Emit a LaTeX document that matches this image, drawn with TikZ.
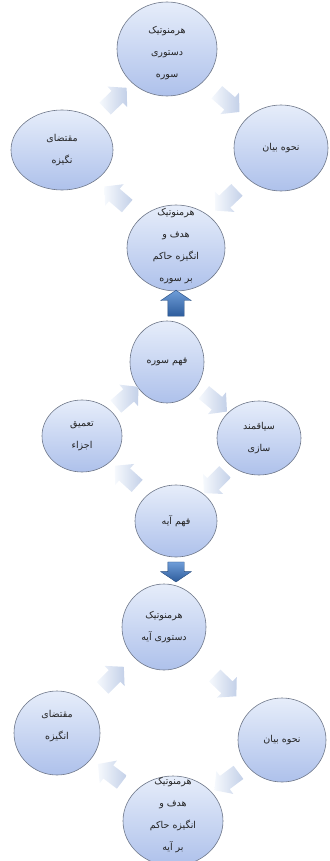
\documentclass[tikz,border=0pt]{standalone}
\usepackage{fontspec}
\newfontfamily\arabicfont[Script=Arabic]{DejaVu Sans}
\TeXXeTstate=1
\usetikzlibrary{shapes.geometric,shapes.arrows,calc}
\newcommand\rtltext[1]{\beginR #1\endR}
\definecolor{circtop}{HTML}{E6EDFA}
\definecolor{circbot}{HTML}{AEC1EB}
\definecolor{circline}{HTML}{6E7789}
\definecolor{paleA}{HTML}{F6F9FD}
\definecolor{paleB}{HTML}{C3D0E8}
\definecolor{blueA}{HTML}{2D5C9C}
\definecolor{blueB}{HTML}{6F9DD8}
\definecolor{txtc}{HTML}{222222}
\begin{document}
\begin{tikzpicture}[x=1pt,y=-1pt,
  bubble/.style={ellipse, draw=circline, line width=0.6pt, top color=circtop, bottom color=circbot, inner sep=0pt},
  txt/.style={align=center, text=txtc, font=\arabicfont\fontsize{9.5}{22}\selectfont, inner sep=0pt},
  parr/.style={single arrow, draw=none, left color=paleA, right color=paleB, minimum height=30pt, inner sep=0pt, inner ysep=8pt, single arrow head extend=6pt, single arrow tip angle=95, sloped, allow upside down},
  barr/.style={single arrow, draw=blueA!80!black, line width=0.4pt, top color=blueB, bottom color=blueA, inner sep=0pt, inner ysep=8pt, single arrow head extend=7pt, single arrow tip angle=112},
]
\useasboundingbox (0,0) rectangle (329,861);

% ---- cycle 1 ----
\node[bubble, minimum width=100pt, minimum height=94pt] (c1) at (167,49) {};
\node[bubble, minimum width=102pt, minimum height=80pt] (c2) at (62,150) {};
\node[bubble, minimum width=94pt, minimum height=86pt] (c3) at (281,148) {};
\node[bubble, minimum width=98pt, minimum height=86pt] (c4) at (176,248) {};
\node[txt] (t1) at ($(c1)+(0,4)$) {\rtltext{هرمنوتیک}\\\rtltext{دستوری}\\\rtltext{سوره}};
\node[txt] (t2) at (c2) {\rtltext{مقتضای}\\\rtltext{نگیزه}};
\node[txt] (t3) at (c3) {\rtltext{نحوه بیان}};
\node[txt] (t4) at ($(c4)+(0,-2)$) {\rtltext{هرمنوتیک}\\\rtltext{هدف و}\\\rtltext{انگیزه حاکم}\\\rtltext{بر سوره}};
\path (c1) -- node[parr]{} (c3);
\path (c3) -- node[parr]{} (c4);
\path (c4) -- node[parr]{} (c2);
\path (c2) -- node[parr]{} (c1);

% ---- cycle 2 ----
\node[bubble, minimum width=74pt, minimum height=82pt] (c5) at (167,362) {};
\node[bubble, minimum width=80pt, minimum height=72pt] (c6) at (82,436) {};
\node[bubble, minimum width=84pt, minimum height=74pt] (c7) at (259,438) {};
\node[bubble, minimum width=82pt, minimum height=72pt] (c8) at (176,521) {};
\node[txt] (t5) at (c5) {\rtltext{فهم سوره}};
\node[txt] (t6) at (c6) {\rtltext{تعمیق}\\\rtltext{اجزاء}};
\node[txt] (t7) at (c7) {\rtltext{سیاقمند}\\\rtltext{سازی}};
\node[txt] (t8) at (c8) {\rtltext{فهم آیه}};
\path (c5) -- node[parr]{} (c7);
\path (c7) -- node[parr]{} (c8);
\path (c8) -- node[parr]{} (c6);
\path (c6) -- node[parr]{} (c5);

% ---- cycle 3 ----
\node[bubble, minimum width=84pt, minimum height=86pt] (c9) at (164,627) {};
\node[bubble, minimum width=86pt, minimum height=84pt] (c10) at (57,733) {};
\node[bubble, minimum width=88pt, minimum height=84pt] (c11) at (282,740) {};
\node[bubble, minimum width=100pt, minimum height=90pt] (c12) at (173,821) {};
\node[txt] (t9) at (c9) {\rtltext{هرمنوتیک}\\\rtltext{دستوری آیه}};
\node[txt] (t10) at ($(c10)+(0,-7)$) {\rtltext{مقتضای}\\\rtltext{انگیزه}};
\node[txt] (t11) at (c11) {\rtltext{نحوه بیان}};
\node[txt] (t12) at ($(c12)+(0,-6)$) {\rtltext{هرمنوتیک}\\\rtltext{هدف و}\\\rtltext{انگیزه حاکم}\\\rtltext{بر آیه}};
\path (c9) -- node[parr]{} (c11);
\path (c11) -- node[parr]{} (c12);
\path (c12) -- node[parr]{} (c10);
\path (c10) -- node[parr]{} (c9);

% ---- blue arrows ----
\node[barr, rotate=90, minimum height=26pt] (up) at ($(c4.south)!0.5!(c4.south |- c5.north)$) {};
\node[barr, rotate=-90, minimum height=20pt] (down) at ($(c8.south)!0.45!(c8.south |- c9.north)$) {};
\end{tikzpicture}
\end{document}
